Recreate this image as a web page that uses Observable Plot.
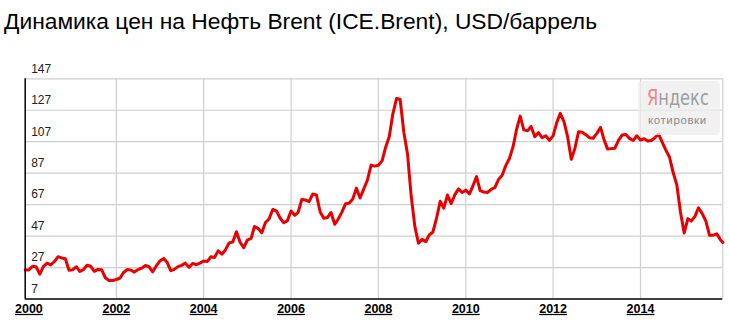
<!DOCTYPE html>
<html><head><meta charset="utf-8">
<script src="https://cdn.jsdelivr.net/npm/d3@7"></script>
<script src="https://cdn.jsdelivr.net/npm/@observablehq/plot@0.6"></script>
<style>
html,body{margin:0;padding:0;background:#fff}
body{width:729px;height:323px;overflow:hidden;position:relative;font-family:"Liberation Sans",Arial,sans-serif}
#title{position:absolute;left:4px;top:8px;font-size:22.8px;color:#000;white-space:nowrap;line-height:26px}
#chart{position:absolute;left:0;top:45px}
#chart [aria-label="x-axis tick label"] text{text-decoration:underline}
#logo{position:absolute;left:638px;top:81px;width:82px;height:54px;background:rgba(236,236,236,0.75);border-radius:4px}
#logo .y{position:absolute;left:9px;top:4px;font-family:"Liberation Sans Narrow","DejaVu Sans Condensed","Liberation Sans",sans-serif;font-size:22px;line-height:26px;color:#9d9d9d;white-space:nowrap;transform:scaleX(0.82);transform-origin:0 0}
#logo .y span{color:#f08585}
#logo .k{position:absolute;left:10px;top:33px;font-size:11.5px;letter-spacing:0.6px;color:#8a8a8a;white-space:nowrap}
</style>
</head><body>
<div id="title">Динамика цен на Нефть Brent (ICE.Brent), USD/баррель</div>
<div id="chart"></div>
<div id="logo"><div class="y"><span>Я</span>ндекс</div><div class="k">котировки</div></div>
<script>
// Monthly values (USD per barrel), starting Dec 1999
const startMonth = "1999-12";
const values1999 = [25.5];
const values2000 = [25.5, 27.8, 27.5, 22.8, 27.6, 29.8, 28.7, 30.7, 33.9, 33.1, 32.6, 25.3];
const values2001 = [25.6, 27.5, 24.5, 25.6, 28.5, 27.8, 24.6, 25.8, 25.6, 20.5, 18.8, 18.7];
const values2002 = [19.4, 20.3, 23.7, 25.7, 25.4, 24.1, 25.7, 26.6, 28.3, 27.5, 24.3, 28.0];
const values2003 = [31.2, 32.8, 30.4, 25.0, 25.8, 27.6, 28.4, 29.8, 27.1, 29.6, 28.8, 29.8];
const values2004 = [31.2, 30.9, 33.8, 33.4, 37.6, 35.5, 38.2, 42.7, 43.2, 49.8, 43.1, 39.6];
const values2005 = [44.5, 45.5, 53.1, 51.9, 49.0, 55.6, 57.9, 63.9, 63.0, 58.5, 55.5, 56.7];
const values2006 = [62.9, 60.2, 62.1, 70.3, 70.0, 68.9, 73.7, 73.2, 62.5, 58.4, 58.8, 62.0];
const values2007 = [54.5, 58.0, 62.1, 67.5, 67.9, 70.6, 77.5, 71.2, 77.0, 82.5, 92.1, 91.5];
const values2008 = [92.0, 94.8, 103.3, 110.2, 124.6, 134.5, 134.0, 113.0, 99.1, 72.8, 53.2, 42.5];
const values2009 = [44.9, 43.4, 47.7, 49.6, 58.2, 69.1, 64.8, 73.1, 67.7, 73.2, 77.0, 74.7];
const values2010 = [76.2, 73.8, 78.8, 84.8, 75.9, 75.0, 74.7, 76.7, 77.8, 82.9, 85.7, 91.8];
const values2011 = [96.3, 104.0, 114.6, 123.3, 114.5, 113.9, 116.7, 110.2, 112.8, 109.6, 110.8, 107.9];
const values2012 = [110.7, 119.3, 125.0, 119.8, 110.3, 95.8, 102.6, 113.4, 113.0, 111.5, 109.5, 109.2];
const values2013 = [112.3, 116.1, 108.5, 102.3, 102.6, 102.9, 107.9, 111.3, 111.6, 109.1, 107.8, 110.8];
const values2014 = [108.1, 108.9, 107.5, 107.8, 109.5, 111.8, 106.8, 101.6, 97.1, 87.4, 79.4, 62.3];
const values2015 = [49.0, 58.1, 56.5, 59.5, 65.0, 61.3, 56.6, 47.5, 47.6, 48.4, 44.5];
const lastDate = "2015-11-20";
const lastValue = 43.0;

const yTickValues = [7, 27, 47, 67, 87, 107, 127, 147];
const xTickYears = [2000, 2002, 2004, 2006, 2008, 2010, 2012, 2014];
const xDomain = ["1999-12-01", "2015-11-20"];

const allValues = [].concat(values1999, values2000, values2001, values2002, values2003, values2004,
  values2005, values2006, values2007, values2008, values2009, values2010, values2011, values2012,
  values2013, values2014, values2015);
const start = new Date(startMonth + "-01T00:00:00Z");
const data = allValues.map((v, i) => ({date: d3.utcMonth.offset(start, i), value: v}));
data.push({date: new Date(lastDate + "T00:00:00Z"), value: lastValue});

const xTicks = xTickYears.map(y => new Date(Date.UTC(y, 0, 1)));
const x0 = new Date(xDomain[0] + "T00:00:00Z");
const x1 = new Date(xDomain[1] + "T00:00:00Z");

const chart = Plot.plot({
  width: 729,
  height: 278,
  marginLeft: 24.7,
  marginRight: 6.7,
  marginTop: 33.3,
  marginBottom: 24.5,
  style: {fontFamily: "'Liberation Sans', Arial, sans-serif", fontSize: "12px", background: "transparent", overflow: "visible"},
  x: {type: "utc", domain: [x0, x1], axis: null},
  y: {domain: [7, 147], axis: null},
  marks: [
    Plot.gridY(yTickValues.filter(d => d > 7), {stroke: "#cfcfcf", strokeOpacity: 1, strokeWidth: 1.2}),
    Plot.gridX(xTicks.slice(1), {stroke: "#cfcfcf", strokeOpacity: 1, strokeWidth: 1.2}),
    Plot.ruleX([x1], {stroke: "#cfcfcf", strokeWidth: 1.2}),
    Plot.text(yTickValues, {y: d => d, frameAnchor: "left", textAnchor: "start", dx: 6, dy: -10, fill: "#222", fontSize: 12}),
    Plot.lineY(data, {x: "date", y: "value", stroke: "#e80000", strokeWidth: 3, strokeLinejoin: "round", strokeLinecap: "round"}),
    Plot.ruleY([7], {stroke: "#000", strokeWidth: 1.5}),
    Plot.ruleX([x0], {stroke: "#000", strokeWidth: 1.5}),
    Plot.axisX(xTicks, {tickSize: 0, tickPadding: 5, tickFormat: d3.utcFormat("%Y"), fontWeight: "bold", fontSize: 12.5, fill: "#000", label: null})
  ]
});
document.getElementById("chart").appendChild(chart);
</script>
</body></html>
